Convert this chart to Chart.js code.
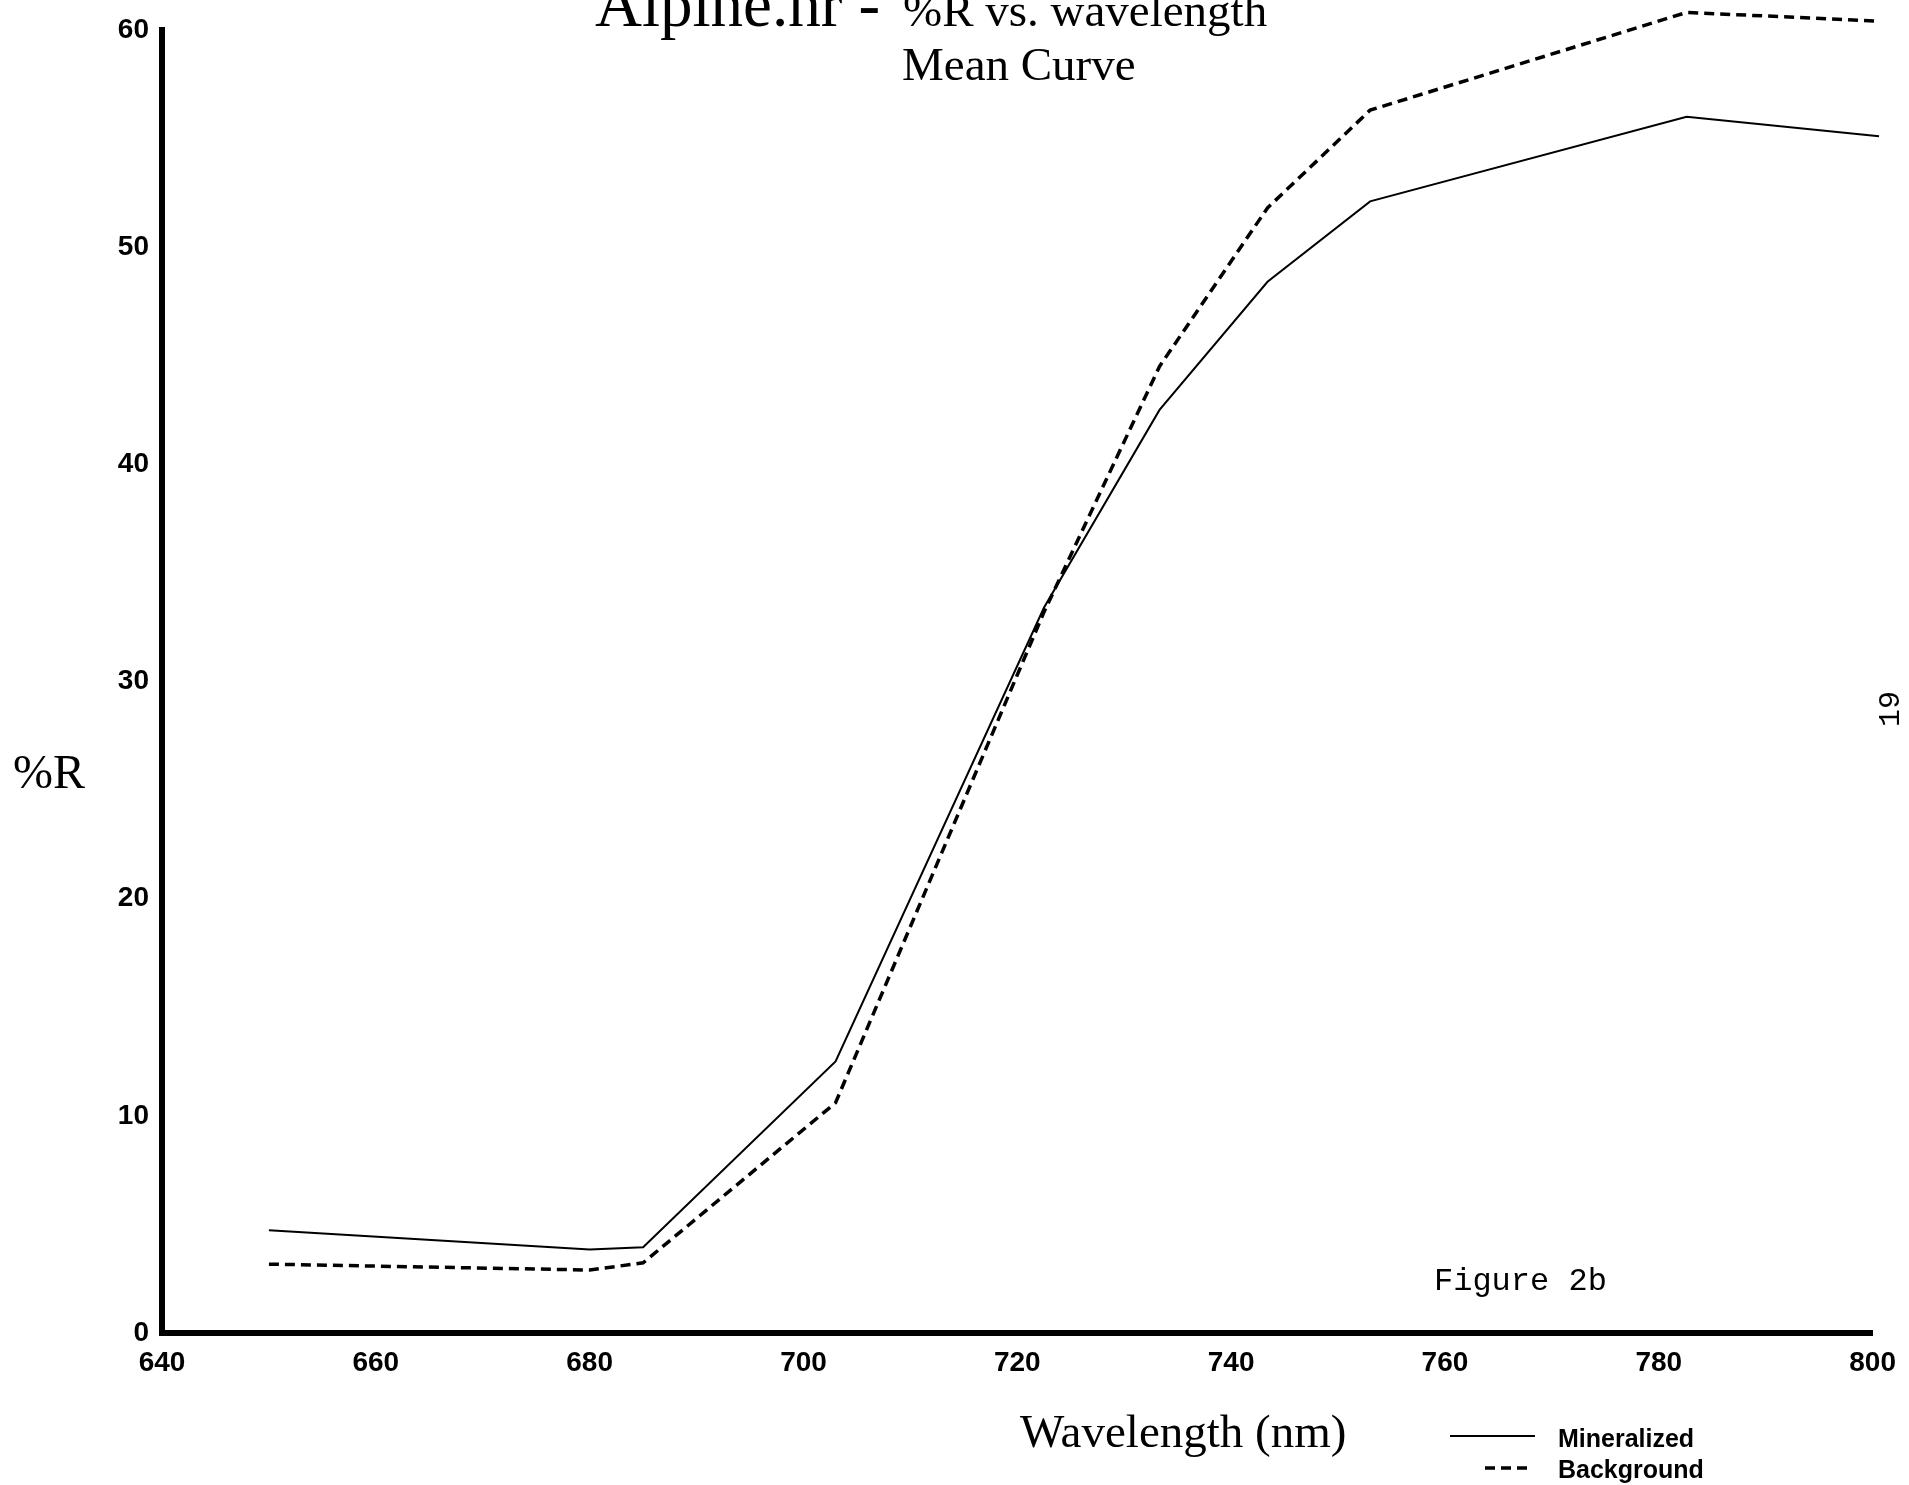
<!DOCTYPE html>
<html>
<head>
<meta charset="utf-8">
<title>Alpine.hr - %R vs. wavelength</title>
<script src="https://cdn.jsdelivr.net/npm/chart.js@4/dist/chart.umd.min.js"></script>
<style>
  html, body { margin: 0; padding: 0; background: #fff; }
  #c { display: block; }
</style>
</head>
<body>
<canvas id="c" width="1909" height="1485"></canvas>
<script>
// ── Datos: %R medio por banda (nm) ─────────────────────────
var wavelengths = [650, 680, 685, 703, 722.5, 733.3, 743.4, 753, 782.6, 800.6];
var mineralized = [4.73, 3.84, 3.95, 12.5, 33.4, 42.5, 48.4, 52.1, 56.0, 55.1];
var background  = [3.17, 2.9, 3.23, 10.6, 33.2, 44.5, 51.8, 56.3, 60.8, 60.4];
var seriesNames = ['Mineralized', 'Background'];
var xTicks = [640, 660, 680, 700, 720, 740, 760, 780, 800];
var yTicks = [0, 10, 20, 30, 40, 50, 60];

function pts(ys) {
  return wavelengths.map(function (x, i) { return { x: x, y: ys[i] }; });
}

var SERIF = '"Liberation Serif", "Times New Roman", serif';
var SANS = '"Liberation Sans", Arial, Helvetica, sans-serif';
var MONO = '"Liberation Mono", "Courier New", monospace';

// ── Textos libres y leyenda (dibujados sobre el canvas) ────
var labelsPlugin = {
  id: 'labels',
  afterDraw: function (chart) {
    var ctx = chart.ctx;
    ctx.save();
    ctx.fillStyle = '#000';
    ctx.textBaseline = 'alphabetic';
    ctx.textAlign = 'left';

    ctx.font = '65px ' + SERIF;
    ctx.fillText('Alpine.hr -', 595, 26);
    ctx.font = '47px ' + SERIF;
    ctx.fillText('%R vs. wavelength', 903, 26);
    ctx.font = '47px ' + SERIF;
    ctx.fillText('Mean Curve', 902, 80);

    ctx.font = '48px ' + SERIF;
    ctx.fillText('%R', 13, 788);
    ctx.font = '47px ' + SERIF;
    ctx.fillText('Wavelength (nm)', 1020, 1447);

    ctx.font = '32px ' + MONO;
    ctx.fillText('Figure 2b', 1434, 1290);

    ctx.save();
    ctx.translate(1891, 709);
    ctx.rotate(-Math.PI / 2);
    ctx.textAlign = 'center';
    ctx.textBaseline = 'middle';
    ctx.font = '30px ' + MONO;
    ctx.fillText('19', 0, 0);
    ctx.restore();

    // leyenda con el estilo de cada dataset
    var rows = [
      { x0: 1450, x1: 1535, y: 1436, ty: 1447 },
      { x0: 1485, x1: 1533, y: 1468, ty: 1478 }
    ];
    chart.data.datasets.forEach(function (ds, i) {
      var r = rows[i];
      ctx.beginPath();
      ctx.setLineDash(ds.borderDash || []);
      ctx.lineWidth = ds.borderWidth;
      ctx.strokeStyle = ds.borderColor;
      ctx.moveTo(r.x0, r.y);
      ctx.lineTo(r.x1, r.y);
      ctx.stroke();
      ctx.setLineDash([]);
      ctx.font = 'bold 25px ' + SANS;
      ctx.fillText(ds.label, 1558, r.ty);
    });
    ctx.restore();
  }
};

var tickFont = { family: SANS, weight: 'bold', size: 28 };

new Chart(document.getElementById('c'), {
  type: 'line',
  data: {
    datasets: [
      { label: seriesNames[0], data: pts(mineralized), borderColor: '#000', borderWidth: 2,
        pointRadius: 0, tension: 0, clip: false, fill: false },
      { label: seriesNames[1], data: pts(background), borderColor: '#000', borderWidth: 3.5,
        borderDash: [10, 6], pointRadius: 0, tension: 0, clip: false, fill: false }
    ]
  },
  options: {
    responsive: false,
    animation: false,
    devicePixelRatio: 1,
    layout: { padding: { top: 24, right: 30, left: 0, bottom: 0 } },
    plugins: { legend: { display: false }, tooltip: { enabled: false }, title: { display: false } },
    scales: {
      x: {
        type: 'linear', min: 640, max: 800,
        afterBuildTicks: function (s) { s.ticks = xTicks.map(function (v) { return { value: v }; }); },
        afterFit: function (s) { s.height = 1485 - 1333; },
        ticks: { font: tickFont, color: '#000', padding: 13, autoSkip: false, maxRotation: 0 },
        grid: { display: false, drawTicks: false },
        border: { display: true, color: '#000', width: 6 }
      },
      y: {
        min: 0, max: 60,
        afterBuildTicks: function (s) { s.ticks = yTicks.map(function (v) { return { value: v }; }); },
        afterFit: function (s) { s.width = 162; },
        ticks: { font: tickFont, color: '#000', padding: 13, autoSkip: false },
        grid: { display: false, drawTicks: false },
        border: { display: true, color: '#000', width: 6 }
      }
    }
  },
  plugins: [labelsPlugin]
});
</script>
</body>
</html>
